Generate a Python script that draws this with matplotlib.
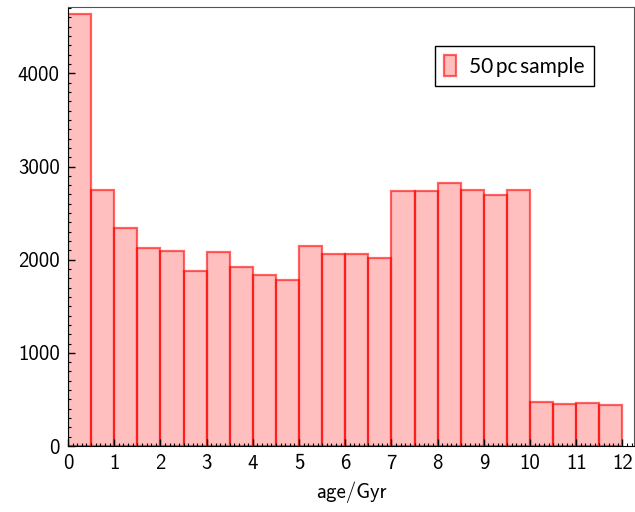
import matplotlib
matplotlib.use("Agg")
import matplotlib.pyplot as plt
from matplotlib.ticker import MultipleLocator
import numpy as np

bin_edges = [0.0, 0.5, 1.0, 1.5, 2.0, 2.5, 3.0, 3.5, 4.0, 4.5, 5.0, 5.5, 6.0,
             6.5, 7.0, 7.5, 8.0, 8.5, 9.0, 9.5, 10.0, 10.5, 11.0, 11.5, 12.0]
counts = [4635, 2745, 2342, 2120, 2098, 1883, 2087, 1923, 1840, 1787, 2147, 2060,
          2062, 2019, 2735, 2735, 2825, 2750, 2697, 2750, 476, 447, 461, 440]
label = "50\u2009pc\u2009sample"
xlabel = "age/Gyr"

fig = plt.figure(figsize=(6.35, 5.12), dpi=100)
ax = fig.add_axes([68/635, 66/512, (634-68)/635, (446-7)/512])

edges = np.array(bin_edges)
ax.hist(edges[:-1], bins=edges, weights=counts,
        facecolor=(1, 0, 0, 0.25), edgecolor=(1, 0, 0, 0.6),
        linewidth=1.6, label=label)

ax.set_xlim(0, 12.25)
ax.set_ylim(0, 4712)

tickfont = "cmss10"
ax.xaxis.set_major_locator(MultipleLocator(1))
ax.xaxis.set_minor_locator(MultipleLocator(0.1))
ax.yaxis.set_major_locator(MultipleLocator(1000))
ax.yaxis.set_minor_locator(MultipleLocator(100))
ax.tick_params(which="both", direction="in", top=False, right=False)
ax.tick_params(which="major", length=5, width=1, labelsize=15, pad=6)
ax.tick_params(which="minor", length=2.5, width=0.8)
for lab in ax.get_xticklabels() + ax.get_yticklabels():
    lab.set_fontfamily(tickfont)

ax.set_xlabel(xlabel, fontfamily=tickfont, fontsize=15, labelpad=6)

for s in ["top", "right"]:
    ax.spines[s].set_color("#555555")
for s in ["left", "bottom"]:
    ax.spines[s].set_color("black")

leg = ax.legend(loc="upper right", bbox_to_anchor=((594-68)/566, (446-46)/439),
                borderaxespad=0,
                prop={"family": "Lato", "size": 15}, fancybox=False,
                framealpha=1, edgecolor="black", handlelength=0.55,
                handleheight=1.15, handletextpad=0.65, borderpad=0.45)
leg.get_frame().set_linewidth(1.0)

fig.savefig("out.png", dpi=100)
